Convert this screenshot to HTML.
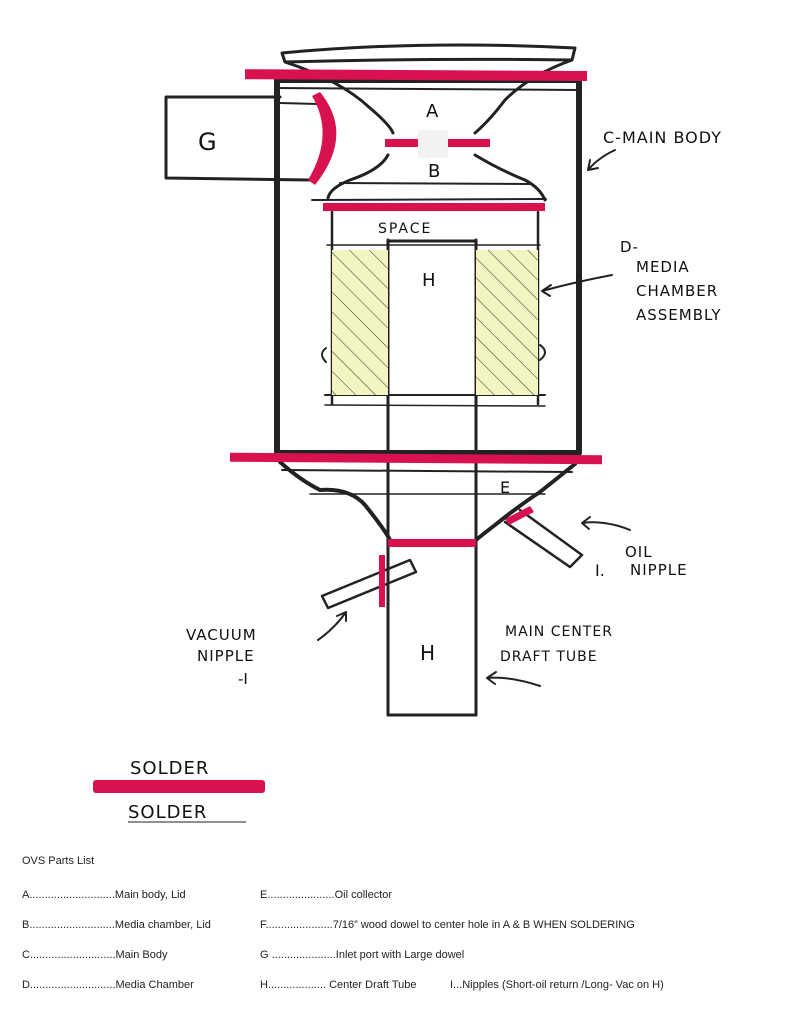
<!DOCTYPE html>
<html><head><meta charset="utf-8"><style>
html,body{margin:0;padding:0;background:#fff;width:796px;height:1024px;overflow:hidden}
svg{display:block}
.h{font-family:"DejaVu Sans","Liberation Sans",sans-serif;fill:#111}
.p{font-family:"Liberation Sans",sans-serif;font-size:11px;fill:#222}
</style></head><body>
<svg width="796" height="1024" viewBox="0 0 796 1024" xmlns="http://www.w3.org/2000/svg">
<g stroke="#222" fill="none" stroke-linecap="round" stroke-linejoin="round">
<!-- lid top -->
<path d="M282 53 Q420 40 575 48 L572 60 Q430 58 285 62 Z" stroke-width="3"/>
<path d="M285 62 Q340 80 370 108 Q390 125 393 133" stroke-width="3"/>
<path d="M572 60 Q530 75 505 100 Q490 120 475 133" stroke-width="3"/>
<!-- lower lid B -->
<path d="M388 155 Q380 170 350 180 Q330 188 328 198" stroke-width="3"/>
<path d="M475 155 Q500 170 525 180 Q540 188 545 200" stroke-width="3"/>
<line x1="340" y1="183" x2="530" y2="184" stroke-width="2"/>
<line x1="312" y1="200" x2="546" y2="199" stroke-width="2"/>
<!-- main body -->
<rect x="277" y="80" width="302" height="373" stroke-width="6"/>
<line x1="277" y1="88" x2="579" y2="90" stroke-width="2"/>
<!-- G box -->
<path d="M280 97 L166 97 L166 178 L310 180" stroke-width="3"/>
<path d="M280 103 L318 104" stroke-width="2"/>
<!-- media chamber -->
<line x1="332" y1="212" x2="332" y2="404" stroke-width="2.5"/>
<line x1="538" y1="212" x2="538" y2="404" stroke-width="2.5"/>
<line x1="327" y1="245" x2="540" y2="245" stroke-width="1.5"/>
<line x1="325" y1="395" x2="545" y2="395" stroke-width="2"/>
<line x1="325" y1="405" x2="545" y2="406" stroke-width="1.5"/>
<!-- center tube -->
<line x1="388" y1="240" x2="388" y2="715" stroke-width="3"/>
<line x1="476" y1="240" x2="476" y2="715" stroke-width="3"/>
<line x1="388" y1="241" x2="476" y2="241" stroke-width="3"/>
<line x1="388" y1="715" x2="476" y2="715" stroke-width="3"/>
<!-- oil collector -->
<path d="M280 462 Q300 480 320 490 Q350 488 365 505 Q385 530 390 540" stroke-width="4"/>
<path d="M575 464 Q555 480 540 492 Q520 505 495 525 Q482 535 476 540" stroke-width="4"/>
<line x1="282" y1="470" x2="572" y2="472" stroke-width="2"/>
<line x1="310" y1="494" x2="545" y2="494" stroke-width="1.5"/>
<!-- oil nipple -->
<path d="M520 510 L582 555 L570 567 L505 522" stroke-width="2.5"/>
<!-- vacuum nipple -->
<path d="M322 596 L410 560 L416 572 L328 608 Z" stroke-width="2.5"/>
<!-- arrows -->
<path d="M615 150 Q598 158 588 170 M588 170 l2 -10 M588 170 l10 -2" stroke-width="2"/>
<path d="M612 275 Q575 282 542 291 M542 291 l9 -6 M542 291 l8 5" stroke-width="2"/>
<path d="M630 530 Q605 520 582 523 M582 523 l8 -6 M582 523 l7 6" stroke-width="2"/>
<path d="M318 640 Q335 628 346 612 M346 612 l-9 4 M346 612 l0 9" stroke-width="2"/>
<path d="M540 686 Q510 676 487 678 M487 678 l9 -6 M487 678 l8 6" stroke-width="2"/>
<!-- small side tabs -->
<path d="M326 348 Q318 354 326 362" stroke-width="2"/>
<path d="M540 345 Q550 352 540 360" stroke-width="2"/>
</g>
<!-- hatched yellow -->
<defs><pattern id="hat" width="14" height="14" patternUnits="userSpaceOnUse" patternTransform="rotate(-45)">
<rect width="14" height="14" fill="#f3f5c0"/><line x1="0" y1="0" x2="0" y2="14" stroke="#333" stroke-width="1"/></pattern></defs>
<rect x="332" y="250" width="56" height="145" fill="url(#hat)"/>
<rect x="476" y="250" width="62" height="145" fill="url(#hat)"/>
<!-- red solder -->
<g fill="#d8124e">
<rect x="245" y="70" width="342" height="10" transform="rotate(0.3 400 75)"/>
<path d="M320 92 Q355 135 315 185 L308 180 Q335 135 312 96 Z"/>
<rect x="385" y="139" width="105" height="8"/>
<rect x="323" y="203" width="222" height="8"/>
<rect x="230" y="454" width="372" height="9" transform="rotate(0.4 415 458)"/>
<rect x="388" y="539" width="88" height="8"/>
<rect x="379" y="555" width="6" height="52"/>
<path d="M505 519 L530 506 L534 512 L509 525 Z"/>
<rect x="93" y="780" width="172" height="13" rx="3"/>
</g>
<rect x="418" y="130" width="30" height="28" fill="#f2f2f2"/>
<!-- labels -->
<g class="h">
<text x="198" y="150" font-size="24">G</text>
<text x="426" y="117" font-size="18">A</text>
<text x="428" y="177" font-size="18">B</text>
<text x="378" y="233" font-size="14" letter-spacing="2">SPACE</text>
<text x="422" y="286" font-size="18">H</text>
<text x="603" y="143" font-size="16" letter-spacing="1">C-MAIN BODY</text>
<text x="620" y="252" font-size="15" letter-spacing="1">D-</text>
<text x="636" y="272" font-size="15" letter-spacing="1">MEDIA</text>
<text x="636" y="296" font-size="15" letter-spacing="1">CHAMBER</text>
<text x="636" y="320" font-size="15" letter-spacing="1">ASSEMBLY</text>
<text x="500" y="493" font-size="16">E</text>
<text x="625" y="557" font-size="15" letter-spacing="1">OIL</text>
<text x="630" y="575" font-size="15" letter-spacing="1">NIPPLE</text>
<text x="595" y="576" font-size="16">I.</text>
<text x="186" y="640" font-size="15" letter-spacing="1">VACUUM</text>
<text x="197" y="661" font-size="15" letter-spacing="1">NIPPLE</text>
<text x="238" y="684" font-size="15">-I</text>
<text x="420" y="660" font-size="20">H</text>
<text x="505" y="636" font-size="14" letter-spacing="1">MAIN CENTER</text>
<text x="500" y="661" font-size="14" letter-spacing="1">DRAFT TUBE</text>
<text x="130" y="774" font-size="18" letter-spacing="1">SOLDER</text>
<text x="128" y="818" font-size="18" letter-spacing="1">SOLDER</text>
</g>
<line x1="128" y1="822" x2="246" y2="822" stroke="#222" stroke-width="1"/>
<g class="p">
<text x="22" y="864">OVS Parts List</text>
<text x="22" y="898">A............................Main body, Lid</text>
<text x="22" y="928">B............................Media chamber, Lid</text>
<text x="22" y="958">C............................Main Body</text>
<text x="22" y="988">D............................Media Chamber</text>
<text x="260" y="898">E......................Oil collector</text>
<text x="260" y="928">F......................7/16” wood dowel to center hole in A &amp; B WHEN SOLDERING</text>
<text x="260" y="958">G .....................Inlet port with Large dowel</text>
<text x="260" y="988">H................... Center Draft Tube</text>
<text x="450" y="988">I...Nipples (Short-oil return /Long- Vac on H)</text>
</g>
</svg>
</body></html>
